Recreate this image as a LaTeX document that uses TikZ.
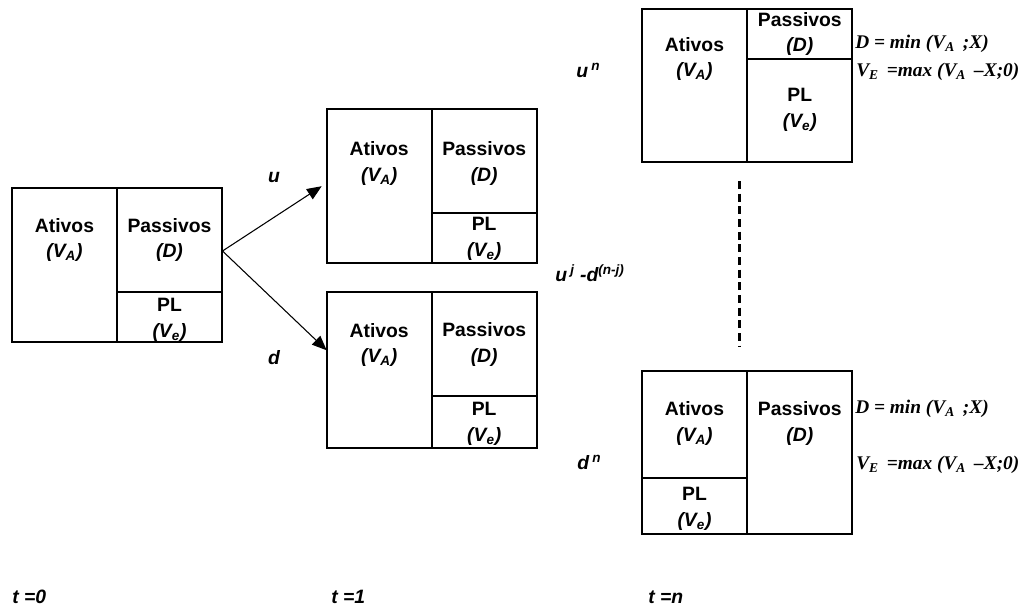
\documentclass[tikz,border=0pt]{standalone}
\usepackage{fontspec}
\setmainfont{Liberation Sans}
\newfontfamily\tnr{Liberation Serif}
\usetikzlibrary{arrows.meta,calc}
\begin{document}
\begin{tikzpicture}[x=0.75pt,y=-0.75pt,
  cell/.style={draw, line width=1.5pt, inner sep=0pt, outer sep=0pt},
  lbl/.style={font=\fontsize{14.5}{19}\selectfont\bfseries, align=center, inner sep=0pt},
  ilbl/.style={font=\fontsize{14.5}{17}\selectfont\bfseries\itshape, inner sep=0pt},
  frm/.style={font=\fontsize{14.5}{18}\selectfont\tnr\bfseries\itshape, anchor=west, inner sep=0pt},
  arr/.style={line width=0.8pt, -{Triangle[length=11pt,width=9pt]}},
  dashline/.style={line width=2.2pt, dash pattern=on 6pt off 3.5pt}
]
\useasboundingbox (0,0) rectangle (1028,607);
\def\VA{\textit{(V\textsubscript{A})}}
\def\Ve{\textit{(V\textsubscript{e})}}
% ---- box 0 (t=0)
\node[cell, minimum width=78.75pt, minimum height=115.5pt] (A0) at (64.5,265) {};
\node[cell, minimum width=78.75pt, minimum height=78pt] (P0) at (169.5,240) {};
\node[cell, minimum width=78.75pt, minimum height=37.5pt] (L0) at (169.5,317) {};
\node[lbl] (tA0) at (64.5,240) {Ativos\\\VA};
\node[lbl] (tP0) at (169.5,240) {Passivos\\\textit{(D)}};
\node[lbl] (tL0) at (169.5,320) {PL\\\Ve};
% ---- box 1 (up)
\node[cell, minimum width=78.75pt, minimum height=115.75pt] (A1) at (379.2,186.2) {};
\node[cell, minimum width=78.75pt, minimum height=78pt] (P1) at (484.2,161.2) {};
\node[cell, minimum width=78.75pt, minimum height=37.5pt] (L1) at (484.2,238.3) {};
\node[lbl] (tA1) at (379.2,163.5) {Ativos\\\VA};
\node[lbl] (tP1) at (484.2,163.5) {Passivos\\\textit{(D)}};
\node[lbl] (tL1) at (484.2,239) {PL\\\Ve};
% ---- box 2 (down)
\node[cell, minimum width=78.75pt, minimum height=117pt] (A2) at (379.2,370.3) {};
\node[cell, minimum width=78.75pt, minimum height=77.5pt] (P2) at (484.2,344) {};
\node[cell, minimum width=78.75pt, minimum height=39.5pt] (L2) at (484.2,422) {};
\node[lbl] (tA2) at (379.2,345) {Ativos\\\VA};
\node[lbl] (tP2) at (484.2,344.5) {Passivos\\\textit{(D)}};
\node[lbl] (tL2) at (484.2,424) {PL\\\Ve};
% ---- box 3 (u^n)
\node[cell, minimum width=79.2pt, minimum height=114.5pt] (A3) at (694.5,85.3) {};
\node[cell, minimum width=78.75pt, minimum height=37.5pt] (P3) at (799.8,34) {};
\node[cell, minimum width=78.75pt, minimum height=77pt] (L3) at (799.8,110.3) {};
\node[lbl] (tA3) at (694.5,59) {Ativos\\\VA};
\node[lbl] (tP3) at (799.8,34) {Passivos\\\textit{(D)}};
\node[lbl] (tL3) at (799.8,110) {PL\\\Ve};
% ---- box 4 (d^n)
\node[cell, minimum width=79.2pt, minimum height=80.25pt] (A4) at (694.5,424.2) {};
\node[cell, minimum width=79.2pt, minimum height=42.5pt] (L4) at (694.5,506) {};
\node[cell, minimum width=78.75pt, minimum height=122.7pt] (P4) at (799.8,452.5) {};
\node[lbl] (tA4) at (694.5,423.5) {Ativos\\\VA};
\node[lbl] (tP4) at (799.8,423.5) {Passivos\\\textit{(D)}};
\node[lbl] (tL4) at (694.5,509) {PL\\\Ve};
% ---- formulas
\node[frm] (f3a) at (855,44) {D = min (V\textsubscript{A}\, ;X)};
\node[frm] (f3b) at (856,72) {V\textsubscript{E}\, =max (V\textsubscript{A}\, –X;0)};
\node[frm] (f4a) at (855,409) {D = min (V\textsubscript{A}\, ;X)};
\node[frm] (f4b) at (856,465) {V\textsubscript{E}\, =max (V\textsubscript{A}\, –X;0)};
% ---- arrows
\coordinate (s0) at (222.5,251);
\draw[arr] (s0) -- ([xshift=-3.75pt]A1.west);
\draw[arr] (s0) -- ([yshift=15pt]A2.west);
\node[ilbl] (u) at (274,177) {u};
\node[ilbl] (d) at (274,358) {d};
% ---- dashed
\coordinate (dtop) at (739.3,181);
\coordinate (dbot) at (739.3,346);
\draw[dashline] (dtop) -- (dbot);
% ---- state labels
\node[ilbl, anchor=west] (un) at (576,70) {u\,\textsuperscript{n}};
\node[ilbl, anchor=west] (ujd) at (555,273) {u\,\textsuperscript{j} -d\textsuperscript{(n-j)}};
\node[ilbl, anchor=west] (dn) at (577,462) {d\,\textsuperscript{n}};
% ---- time labels
\node[ilbl, anchor=west] (t0) at (12,597) {t =0};
\node[ilbl, anchor=west] (t1) at (331,597) {t =1};
\node[ilbl, anchor=west] (tn) at (648,597) {t =n};
\end{tikzpicture}
\end{document}
